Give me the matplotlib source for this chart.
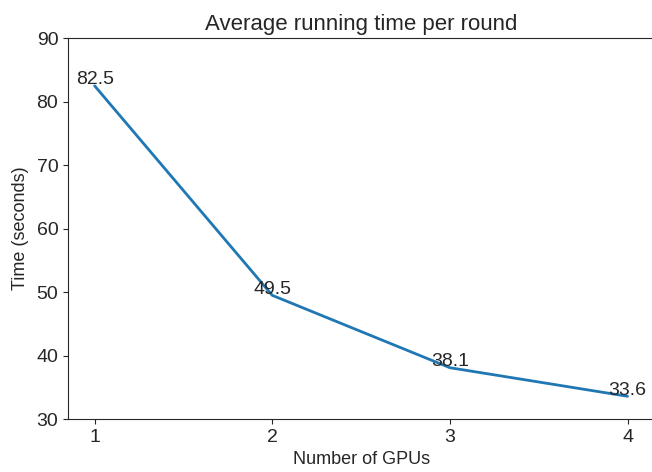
import matplotlib
matplotlib.use("Agg")
import matplotlib.pyplot as plt
import seaborn as sns

## data #########
gpus = [1, 2, 3, 4]
times = [82.5, 49.5, 38.1, 33.6]
labels = ["82.5", "49.5", "38.1", "33.6"]

sns.set_style("ticks")
plt.rcParams['font.family'] = ['Liberation Sans', 'DejaVu Sans']
plt.rcParams['text.color'] = '#262626'

fig = plt.figure(figsize=(6.52, 4.72), dpi=100)
ax = fig.add_axes([0.1043, 0.112, 0.899, 0.807])
ax.plot(gpus, times, color='#1f77b4', linewidth=2)

# value labels sit just on the points
for x, y, s in zip(gpus, times, labels):
    ax.annotate(s, (x, y), xytext=(0, 1), textcoords='offset points',
                ha='center', va='baseline', fontsize=14)

ax.set_xlim(0.85, 4.15)
ax.set_ylim(30, 90)
ax.set_xticks(gpus)
ax.tick_params(labelsize=14)
ax.spines['right'].set_visible(False)
ax.set_xlabel("Number of GPUs", fontsize=13)
ax.set_ylabel("Time (seconds)", fontsize=13, labelpad=5)
ax.set_title("Average running time per round", fontsize=16)

fig.savefig("out.png", dpi=100)
